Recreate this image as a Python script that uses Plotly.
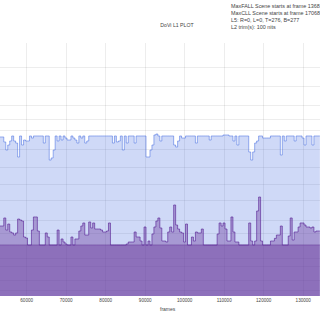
import plotly.graph_objects as go

# frame index (every 500 frames across the visible window)
frames = list(range(53200, 134700, 500))

# L1 max (12-bit PQ code)
max_pq = [
    2574, 2574, 2493, 2363, 2444, 2509, 2590, 2509, 2476, 2250,
    2590, 2444, 2525, 2509, 2509, 2590, 2557, 2590, 2590, 2590,
    2590, 2590, 2476, 2590, 2590, 2201, 2234, 2363, 2590, 2509,
    2590, 2525, 2590, 2557, 2525, 2525, 2590, 2557, 2525, 2476,
    2590, 2557, 2590, 2476, 2509, 2590, 2590, 2590, 2590, 2590,
    2590, 2590, 2590, 2590, 2590, 2590, 2590, 2476, 2590, 2493,
    2509, 2590, 2363, 2590, 2476, 2590, 2590, 2590, 2476, 2590,
    2590, 2590, 2590, 2590, 2250, 2250, 2363, 2444, 2606, 2622,
    2590, 2509, 2590, 2590, 2590, 2590, 2590, 2590, 2444, 2412,
    2509, 2590, 2557, 2557, 2590, 2590, 2590, 2590, 2590, 2476,
    2590, 2590, 2590, 2590, 2590, 2590, 2525, 2590, 2590, 2590,
    2590, 2590, 2590, 2606, 2606, 2606, 2590, 2590, 2509, 2590,
    2444, 2590, 2590, 2590, 2590, 2590, 2331, 2201, 2331, 2476,
    2509, 2590, 2590, 2557, 2557, 2557, 2557, 2590, 2590, 2590,
    2590, 2590, 2282, 2590, 2509, 2590, 2590, 2590, 2590, 2509,
    2590, 2590, 2590, 2557, 2444, 2590, 2590, 2590, 2444, 2590,
    2590, 2590, 2590,
]

# L1 average (12-bit PQ code)
avg_pq = [
    1133, 1133, 1263, 1068, 1165, 1036, 1020, 987, 1020, 1246,
    1230, 1214, 955, 939, 825, 825, 1068, 1279, 1279, 1052,
    825, 825, 825, 1020, 955, 825, 825, 825, 825, 1068,
    825, 923, 874, 842, 825, 825, 955, 825, 923, 923,
    1052, 1133, 1182, 987, 987, 1198, 1101, 1182, 1084, 1084,
    1084, 1068, 1036, 1036, 1052, 1182, 825, 825, 825, 825,
    825, 825, 825, 825, 842, 874, 874, 874, 1036, 955,
    955, 890, 825, 1117, 825, 890, 825, 1004, 1117, 1214,
    1263, 1101, 890, 890, 874, 1036, 1117, 1036, 1473, 1149,
    1084, 1036, 1020, 874, 1165, 825, 825, 955, 890, 1036,
    1020, 1020, 1084, 825, 825, 825, 825, 825, 825, 825,
    1004, 1182, 1133, 1182, 1084, 890, 890, 1279, 1036, 874,
    874, 825, 825, 825, 825, 825, 1182, 890, 825, 890,
    1376, 1602, 890, 825, 825, 825, 825, 890, 890, 933,
    987, 987, 1133, 825, 825, 825, 971, 1263, 906, 1036,
    1036, 1117, 1182, 1182, 1149, 1117, 1117, 1101, 1117, 1036,
    1052, 1052, 1052,
]

# L1 floor level of the dark band (12-bit PQ code)
low_pq = [825] * len(frames)

# y-axis reference levels (nits)
nits_ticks = [0.01, 0.1, 0.5, 1, 2.5, 5, 10, 25, 50, 100, 200, 400, 600, 1000, 2000, 4000, 10000]
x_ticks = [60000, 70000, 80000, 90000, 100000, 110000, 120000, 130000]

info_lines = [
    "MaxFALL Scene starts at frame 136816",
    "MaxCLL Scene starts at frame 170684",
    "L5: R=0, L=0, T=276, B=277",
    "L2 trim(s): 100 nits",
]


def nits_to_pq_code(n):
    m1 = 0.1593017578125
    m2 = 78.84375
    c1 = 0.8359375
    c2 = 18.8515625
    c3 = 18.6875
    y = (n / 10000.0) ** m1
    return 4095 * ((c1 + c2 * y) / (1 + c3 * y)) ** m2


fig = go.Figure()
fig.add_trace(go.Scatter(
    x=frames, y=max_pq, mode="lines", line_shape="hv", name="Maximum",
    line=dict(color="rgba(65,105,225,0.75)", width=0.7),
    fill="tozeroy", fillcolor="rgba(65,105,225,0.25)",
))
fig.add_trace(go.Scatter(
    x=frames, y=low_pq, mode="lines", line_shape="hv", name="Floor",
    line=dict(color="rgba(102,51,153,0.6)", width=0.7),
    fill="tozeroy", fillcolor="rgba(102,51,153,0.4)",
))
fig.add_trace(go.Scatter(
    x=frames, y=avg_pq, mode="lines", line_shape="hv", name="Average",
    line=dict(color="rgba(90,35,150,0.9)", width=0.7),
    fill="tozeroy", fillcolor="rgba(102,51,153,0.38)",
))

font = "Arial, Liberation Sans, sans-serif"
fig.update_layout(
    width=320, height=320,
    margin=dict(l=0, r=0, t=43, b=24),
    paper_bgcolor="white", plot_bgcolor="white",
    showlegend=False,
    font=dict(family=font, size=5, color="#444"),
    title=dict(text="DoVi L1 PLOT", x=177 / 320, xanchor="center", y=1 - 25 / 320,
               yanchor="middle", font=dict(family=font, size=5.2, color="#444")),
)
fig.update_xaxes(
    range=[53240, 134240], tickvals=x_ticks, ticktext=[str(v) for v in x_ticks],
    showgrid=True, gridcolor="rgba(0,0,0,0.07)", gridwidth=1, zeroline=False,
    tickfont=dict(size=4.6, color="#444"), ticks="", showline=False,
)
fig.update_yaxes(
    range=[0, 4095], tickvals=[nits_to_pq_code(n) for n in nits_ticks],
    ticktext=[str(n) for n in nits_ticks], showticklabels=False,
    showgrid=True, gridcolor="rgba(0,0,0,0.07)", gridwidth=1, zeroline=False,
)
fig.add_annotation(
    text="frames", xref="paper", yref="paper", x=168 / 320, y=-13 / 253,
    xanchor="center", yanchor="middle", showarrow=False,
    font=dict(family=font, size=5, color="#444"),
)
fig.add_annotation(
    text="<br>".join(info_lines), xref="paper", yref="paper", x=229 / 320, y=1 + 42 / 253,
    xanchor="left", yanchor="top", align="left", showarrow=False,
    font=dict(family=font, size=5.4, color="#444"),
)

fig.write_html("out.html")
